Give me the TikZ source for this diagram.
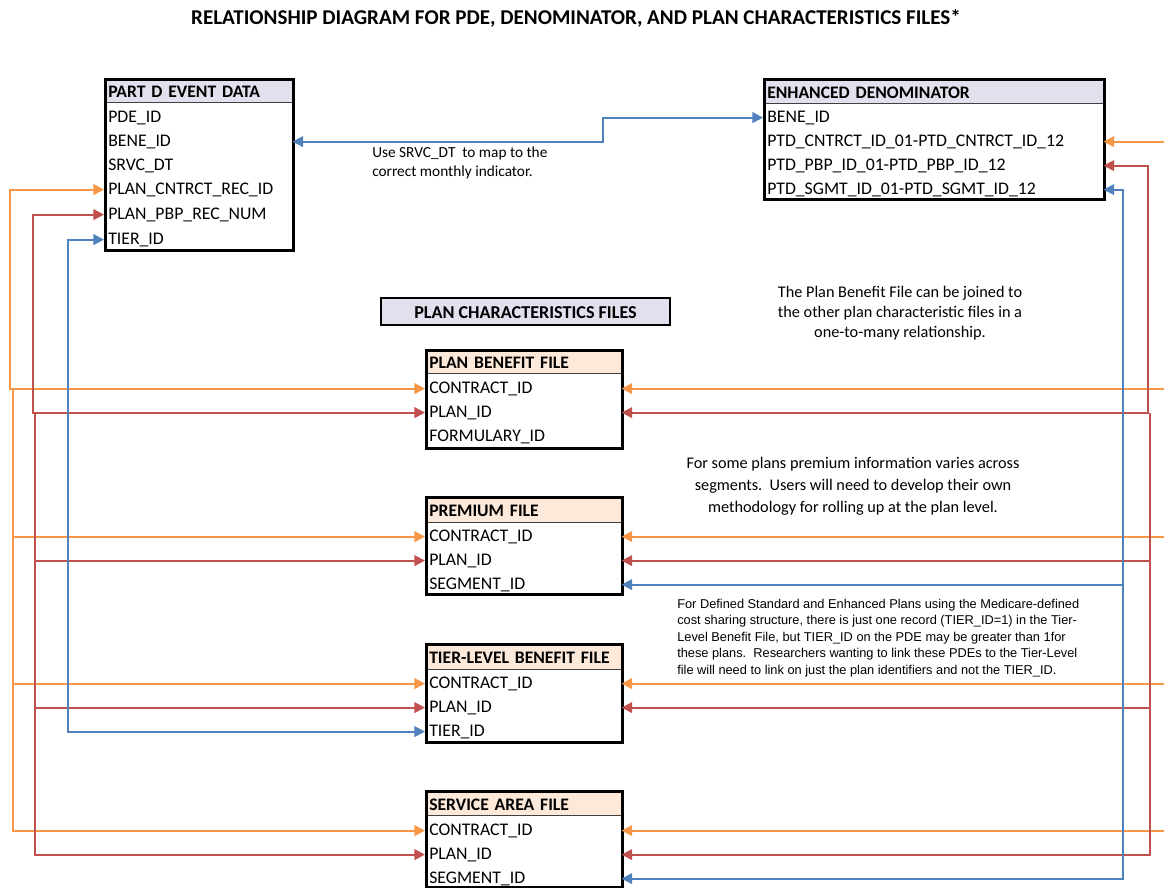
\documentclass[tikz,border=0pt]{standalone}
\usepackage{fontspec}
\setmainfont{Carlito}
\newfontfamily\arialf{Liberation Sans}
\usetikzlibrary{arrows.meta}
\definecolor{orl}{HTML}{F79646}
\definecolor{rdl}{HTML}{C0504D}
\definecolor{bll}{HTML}{4F81BD}
\definecolor{lav}{HTML}{E4DFEC}
\definecolor{pch}{HTML}{FDE9D9}
\newcommand\fldfont{\fontsize{13.3}{15}\selectfont}
\newcommand\hdrfont{\fontsize{13.2}{15}\selectfont\bfseries}
\begin{document}
\begin{tikzpicture}[x=0.75pt,y=-0.75pt,
  fld/.style={anchor=west, inner xsep=3pt, inner ysep=0pt, text width=#1, align=left, font=\fldfont, minimum height=14pt, yshift=-1.2pt},
  hdr/.style={anchor=north west, inner xsep=3pt, inner ysep=0pt, text width=#1, align=left, font=\hdrfont, text height=11.5pt, text depth=0pt},
  tbl/.style={draw=black, line width=2.2pt, anchor=north west, inner sep=0pt},
  sep/.style={draw=black!75, line width=1.4pt},
  conn/.style={line width=1.5pt, arrows={-}},
  tip/.tip={Triangle[length=8pt,width=8pt]},
  oc/.style={conn, draw=orl},
  rc/.style={conn, draw=rdl},
  bc/.style={conn, draw=bll},
  note/.style={align=center, inner sep=0pt, font=\fontsize{12.2}{15}\selectfont}
]
\useasboundingbox (0,0) rectangle (1164,888);

% title
\node[font=\fontsize{15.8}{18}\selectfont\bfseries] (title) at (576,18) {RELATIONSHIP DIAGRAM FOR PDE, DENOMINATOR, AND PLAN CHARACTERISTICS FILES*};

% PART D EVENT DATA
\node[hdr=135pt, fill=lav, minimum height=18pt] (pdeh) at (104,78) {PART D EVENT DATA};
\draw[sep] (pdeh.south west) -- (pdeh.south east);
\node[fld=135pt] (pde1) at (104,116) {PDE\_ID};
\node[fld=135pt] (pde2) at (104,140) {BENE\_ID};
\node[fld=135pt] (pde3) at (104,164) {SRVC\_DT};
\node[fld=135pt] (pde4) at (104,188) {PLAN\_CNTRCT\_REC\_ID};
\node[fld=135pt] (pde5) at (104,213) {PLAN\_PBP\_REC\_NUM};
\node[fld=135pt] (pde6) at (104,238) {TIER\_ID};
\node[tbl, minimum width=141pt, minimum height=128.25pt] (pdebox) at (104,78) {};

% ENHANCED DENOMINATOR
\node[hdr=249pt, fill=lav, minimum height=18.75pt] (denh) at (763,78) {ENHANCED DENOMINATOR};
\draw[sep] (denh.south west) -- (denh.south east);
\node[fld=249pt] (den1) at (763,116) {BENE\_ID};
\node[fld=249pt] (den2) at (763,140) {PTD\_CNTRCT\_ID\_01-PTD\_CNTRCT\_ID\_12};
\node[fld=249pt] (den3) at (763,164) {PTD\_PBP\_ID\_01-PTD\_PBP\_ID\_12};
\node[fld=249pt] (den4) at (763,188) {PTD\_SGMT\_ID\_01-PTD\_SGMT\_ID\_12};
\node[tbl, minimum width=255pt, minimum height=90pt] (denbox) at (763,78) {};

% PLAN CHARACTERISTICS FILES label
\node[draw=black, line width=2.2pt, fill=lav, minimum width=216.75pt, minimum height=20.25pt, inner sep=0pt, font=\fontsize{13.6}{15}\selectfont\bfseries, text height=11pt, text depth=0pt] (pcf) at (525.5,311.5) {PLAN CHARACTERISTICS FILES};

% PLAN BENEFIT FILE
\node[hdr=141pt, fill=pch, minimum height=18pt] (pbfh) at (425,349) {PLAN BENEFIT FILE};
\draw[sep] (pbfh.south west) -- (pbfh.south east);
\node[fld=141pt] (pbf1) at (425,387) {CONTRACT\_ID};
\node[fld=141pt] (pbf2) at (425,411) {PLAN\_ID};
\node[fld=141pt] (pbf3) at (425,435) {FORMULARY\_ID};
\node[tbl, minimum width=147pt, minimum height=73.5pt] (pbfbox) at (425,349) {};

% PREMIUM FILE
\node[hdr=141pt, fill=pch, minimum height=19.5pt] (prmh) at (425,496) {PREMIUM FILE};
\draw[sep] (prmh.south west) -- (prmh.south east);
\node[fld=141pt] (prm1) at (425,535) {CONTRACT\_ID};
\node[fld=141pt] (prm2) at (425,559) {PLAN\_ID};
\node[fld=141pt] (prm3) at (425,583) {SEGMENT\_ID};
\node[tbl, minimum width=147pt, minimum height=72.75pt] (prmbox) at (425,496) {};

% TIER-LEVEL BENEFIT FILE
\node[hdr=141pt, fill=pch, minimum height=19.5pt] (tlbh) at (425,643) {TIER-LEVEL BENEFIT FILE};
\draw[sep] (tlbh.south west) -- (tlbh.south east);
\node[fld=141pt] (tlb1) at (425,682) {CONTRACT\_ID};
\node[fld=141pt] (tlb2) at (425,706) {PLAN\_ID};
\node[fld=141pt] (tlb3) at (425,730) {TIER\_ID};
\node[tbl, minimum width=147pt, minimum height=73.5pt] (tlbbox) at (425,643) {};

% SERVICE AREA FILE
\node[hdr=141pt, fill=pch, minimum height=18.75pt] (sah) at (425,790) {SERVICE AREA FILE};
\draw[sep] (sah.south west) -- (sah.south east);
\node[fld=141pt] (sa1) at (425,829) {CONTRACT\_ID};
\node[fld=141pt] (sa2) at (425,853) {PLAN\_ID};
\node[fld=141pt] (sa3) at (425,877) {SEGMENT\_ID};
\node[tbl, minimum width=147pt, minimum height=72pt] (sabox) at (425,790) {};

% notes
\node[anchor=west, align=left, inner sep=0pt, font=\fontsize{11.5}{14.25}\selectfont] (srvc) at (372,163) {Use SRVC\_DT\ \ to map to the\\correct monthly indicator.};
\node[note] (n1) at (900,313) {The Plan Benefit File can be joined to\\the other plan characteristic files in a\\one-to-many relationship.};
\node[note, font=\fontsize{12.2}{16.5}\selectfont] (n2) at (853,486) {For some plans premium information varies across\\segments.\ \ Users will need to develop their own\\methodology for rolling up at the plan level.};
\node[anchor=west, align=left, inner sep=0pt, font=\arialf\fontsize{9.6}{12.4}\selectfont] (n3) at (677,638) {For Defined Standard and Enhanced Plans using the Medicare-defined\\cost sharing structure, there is just one record (TIER\_ID=1) in the Tier-\\Level Benefit File, but TIER\_ID on the PDE may be greater than 1for\\these plans.\ \ Researchers wanting to link these PDEs to the Tier-Level\\file will need to link on just the plan identifiers and not the TIER\_ID.};

% connectors: top blue
\coordinate (stp) at (603,128);
\draw[bc, tip-tip] (den1.west) -| (stp) |- (pde2.east);

% left orange
\coordinate (ob1) at (10,300);
\draw[oc, tip-tip] (pde4.west) -| (ob1) |- (pbf1.west);
\coordinate (ob2) at (13,389);
\draw[oc, -tip] (ob2) |- (prm1.west);
\draw[oc, -tip] (ob2) |- (tlb1.west);
\draw[oc, -tip] (ob2) |- (sa1.west);

% left red
\coordinate (rb1) at (33,300);
\draw[rc, tip-tip] (pde5.west) -| (rb1) |- (pbf2.west);
\coordinate (rb2) at (35,413);
\draw[rc, -tip] (rb2) |- (prm2.west);
\draw[rc, -tip] (rb2) |- (tlb2.west);
\draw[rc, -tip] (rb2) |- (sa2.west);

% left blue
\coordinate (bb) at (68,500);
\draw[bc, tip-tip] (pde6.west) -| (bb) |- (tlb3.west);

% right orange
\coordinate (redge) at (1164,0);
\draw[oc, -tip] (den2.east -| redge) -- (den2.east);
\draw[oc, -tip] (pbf1.east -| redge) -- (pbf1.east);
\draw[oc, -tip] (prm1.east -| redge) -- (prm1.east);
\draw[oc, -tip] (tlb1.east -| redge) -- (tlb1.east);
\draw[oc, -tip] (sa1.east -| redge) -- (sa1.east);

% right red
\coordinate (rr1) at (1148,300);
\draw[rc, tip-tip] (den3.east) -| (rr1) |- (pbf2.east);
\coordinate (rr2) at (1150,413);
\draw[rc, -tip] (rr2) |- (prm2.east);
\draw[rc, -tip] (rr2) |- (tlb2.east);
\draw[rc, -tip] (rr2) |- (sa2.east);

% right blue
\coordinate (br1) at (1123,400);
\draw[bc, tip-tip] (den4.east) -| (br1) |- (prm3.east);
\coordinate (br2) at (1123,585);
\draw[bc, -tip] (br2) |- (sa3.east);
\end{tikzpicture}
\end{document}
